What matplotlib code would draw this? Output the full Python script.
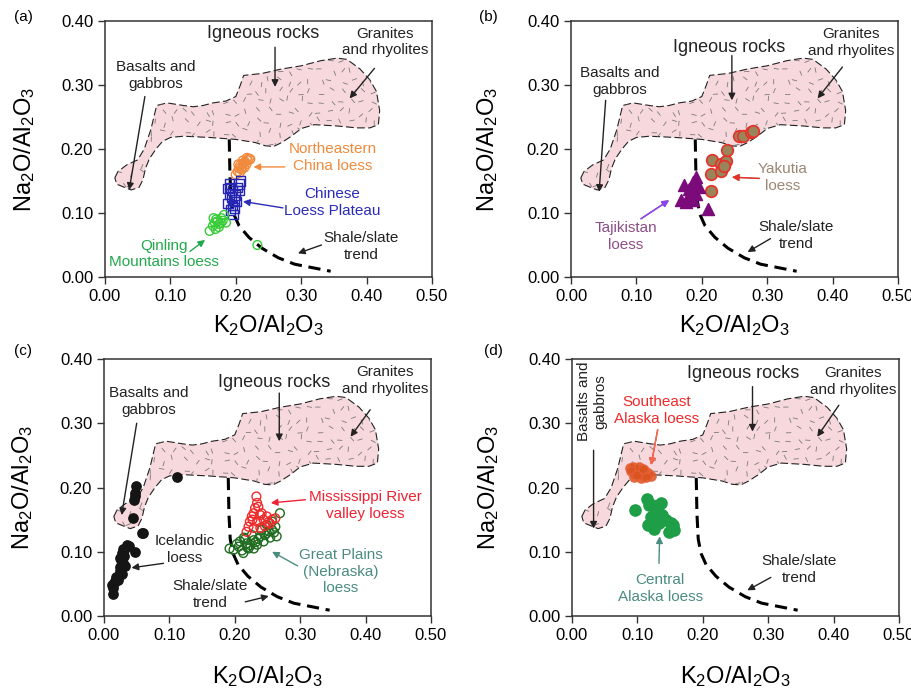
import numpy as np
import matplotlib
matplotlib.use("Agg")
import matplotlib.pyplot as plt
from matplotlib.patches import Polygon
from matplotlib.collections import LineCollection

plt.rcParams['font.family'] = ['Liberation Sans', 'DejaVu Sans']
plt.rcParams['mathtext.default'] = 'regular'

# igneous rocks field outline (K2O/Al2O3, Na2O/Al2O3)
field_x = [0.015, 0.020, 0.033, 0.050, 0.060, 0.070, 0.079, 0.095, 0.120, 0.135, 0.150,
           0.165, 0.185, 0.200, 0.207, 0.212, 0.240, 0.270, 0.300, 0.330, 0.355, 0.370,
           0.390, 0.405, 0.415, 0.420, 0.418, 0.405, 0.385, 0.355, 0.320, 0.300, 0.285,
           0.270, 0.258, 0.245, 0.230, 0.200, 0.160, 0.120, 0.100, 0.088, 0.078, 0.068,
           0.062, 0.058, 0.052, 0.040, 0.030, 0.018]
field_y = [0.155, 0.165, 0.175, 0.183, 0.200, 0.230, 0.268, 0.272, 0.268, 0.266, 0.268,
           0.272, 0.275, 0.282, 0.300, 0.315, 0.318, 0.325, 0.330, 0.338, 0.342, 0.340,
           0.325, 0.308, 0.290, 0.260, 0.238, 0.233, 0.233, 0.236, 0.238, 0.232, 0.220,
           0.210, 0.204, 0.205, 0.210, 0.215, 0.218, 0.220, 0.218, 0.212, 0.200, 0.185,
           0.170, 0.152, 0.140, 0.136, 0.140, 0.145]

# shale/slate trend
trend_x = [0.190, 0.191, 0.193, 0.197, 0.205, 0.220, 0.240, 0.265, 0.290, 0.320, 0.345]
trend_y = [0.215, 0.160, 0.120, 0.098, 0.080, 0.062, 0.045, 0.030, 0.020, 0.014, 0.009]

# (a)
ne_china_x = [0.200, 0.203, 0.205, 0.207, 0.210, 0.212, 0.214, 0.216, 0.218, 0.220, 0.222,
              0.209, 0.204, 0.213, 0.217, 0.206, 0.211]
ne_china_y = [0.160, 0.165, 0.170, 0.175, 0.172, 0.178, 0.180, 0.176, 0.182, 0.185, 0.184,
              0.168, 0.176, 0.171, 0.186, 0.163, 0.182]
clp_x = [0.190, 0.192, 0.195, 0.190, 0.193, 0.197, 0.188, 0.195, 0.198, 0.200, 0.203,
         0.205, 0.207, 0.205, 0.196, 0.192, 0.199, 0.188]
clp_y = [0.145, 0.140, 0.135, 0.130, 0.125, 0.120, 0.115, 0.112, 0.108, 0.118, 0.140,
         0.145, 0.150, 0.135, 0.098, 0.105, 0.128, 0.138]
qinling_x = [0.160, 0.165, 0.168, 0.170, 0.172, 0.175, 0.178, 0.180, 0.182, 0.174, 0.166,
             0.177, 0.169, 0.185, 0.233]
qinling_y = [0.072, 0.080, 0.085, 0.090, 0.087, 0.083, 0.092, 0.088, 0.097, 0.078, 0.092,
             0.085, 0.075, 0.085, 0.050]

# (b)
yakutia_x = [0.214, 0.216, 0.229, 0.230, 0.237, 0.239, 0.214, 0.257, 0.263, 0.275, 0.279, 0.234]
yakutia_y = [0.161, 0.183, 0.176, 0.166, 0.182, 0.198, 0.134, 0.221, 0.220, 0.227, 0.228, 0.173]
tajik_x = [0.173, 0.191, 0.186, 0.181, 0.168, 0.176, 0.186, 0.191, 0.196, 0.209, 0.181, 0.188]
tajik_y = [0.143, 0.156, 0.148, 0.138, 0.120, 0.117, 0.120, 0.130, 0.141, 0.107, 0.128, 0.135]

# (c)
iceland_x = [0.013, 0.012, 0.017, 0.022, 0.027, 0.024, 0.029, 0.024, 0.027, 0.029, 0.035,
             0.048, 0.044, 0.048, 0.049, 0.048, 0.058, 0.060, 0.111, 0.014, 0.031, 0.019,
             0.025, 0.032, 0.021, 0.026, 0.030, 0.038, 0.016, 0.046]
iceland_y = [0.035, 0.048, 0.054, 0.059, 0.066, 0.077, 0.082, 0.090, 0.098, 0.105, 0.111,
             0.099, 0.153, 0.186, 0.202, 0.191, 0.129, 0.129, 0.216, 0.043, 0.102, 0.060,
             0.070, 0.078, 0.056, 0.087, 0.094, 0.109, 0.051, 0.180]
mississippi_x = [0.233, 0.234, 0.236, 0.229, 0.226, 0.239, 0.234, 0.221, 0.229, 0.244, 0.249,
                 0.257, 0.262, 0.254, 0.218, 0.246, 0.231, 0.239, 0.223, 0.227, 0.251, 0.241]
mississippi_y = [0.186, 0.176, 0.170, 0.160, 0.155, 0.157, 0.147, 0.139, 0.137, 0.150, 0.155,
                 0.150, 0.152, 0.144, 0.131, 0.140, 0.168, 0.137, 0.147, 0.150, 0.146, 0.160]
plains_x = [0.198, 0.206, 0.213, 0.218, 0.221, 0.229, 0.234, 0.239, 0.244, 0.249, 0.257,
            0.262, 0.269, 0.264, 0.254, 0.208, 0.226, 0.216, 0.249, 0.229, 0.192, 0.241,
            0.257, 0.203, 0.211, 0.224, 0.236, 0.246, 0.252, 0.219, 0.232, 0.260, 0.214]
plains_y = [0.103, 0.108, 0.098, 0.113, 0.105, 0.118, 0.111, 0.124, 0.116, 0.129, 0.134,
            0.139, 0.160, 0.124, 0.122, 0.116, 0.126, 0.120, 0.142, 0.105, 0.105, 0.134,
            0.147, 0.112, 0.102, 0.110, 0.120, 0.126, 0.132, 0.107, 0.115, 0.130, 0.122]

# (d)
se_alaska_x = [0.088, 0.093, 0.100, 0.105, 0.108, 0.098, 0.116, 0.121, 0.090, 0.103, 0.110,
               0.105, 0.095, 0.113, 0.100, 0.108]
se_alaska_y = [0.230, 0.232, 0.227, 0.225, 0.220, 0.223, 0.222, 0.218, 0.225, 0.232, 0.227,
               0.215, 0.217, 0.217, 0.220, 0.229]
c_alaska_x = [0.096, 0.114, 0.123, 0.128, 0.133, 0.138, 0.143, 0.151, 0.156, 0.148, 0.116,
              0.126, 0.133, 0.121, 0.136, 0.154, 0.118]
c_alaska_y = [0.165, 0.182, 0.173, 0.165, 0.160, 0.157, 0.149, 0.144, 0.134, 0.131, 0.142,
              0.136, 0.144, 0.154, 0.176, 0.142, 0.173]


def frac_hash(k, seed):
    # deterministic scatter of the texture dashes
    v = np.sin(k * 12.9898 + seed * 78.233) * 43758.5453
    return v - np.floor(v)


def base(ax):
    ax.set_xlim(0, 0.5)
    ax.set_ylim(0, 0.4)
    ax.set_xticks(np.arange(0, 0.51, 0.1))
    ax.set_yticks(np.arange(0, 0.41, 0.1))
    ax.xaxis.set_major_formatter(plt.FormatStrFormatter('%.2f'))
    ax.yaxis.set_major_formatter(plt.FormatStrFormatter('%.2f'))
    ax.tick_params(labelsize=12, length=5, width=1, color='#333333', direction='out')
    for s in ax.spines.values():
        s.set_color('#333333')
        s.set_linewidth(1.1)

    field = Polygon(np.column_stack([field_x, field_y]), closed=True, facecolor='#f7d8dc',
                    edgecolor='#222222', lw=0.8, linestyle=(0, (7, 3)), zorder=1)
    ax.add_patch(field)
    segs = []
    L = 0.004
    for i, x in enumerate(np.arange(0.010, 0.43, 0.016)):
        for j, y in enumerate(np.arange(0.130, 0.35, 0.016)):
            k = i * 101 + j * 7 + 1
            ang = frac_hash(k, 1) * np.pi
            cx = x + 0.011 * (frac_hash(k, 2) - 0.5)
            cy = y + 0.011 * (frac_hash(k, 3) - 0.5)
            segs.append([(cx - L * np.cos(ang), cy - L * np.sin(ang)),
                         (cx + L * np.cos(ang), cy + L * np.sin(ang))])
    lc = LineCollection(segs, colors='#7a7a7a', linewidths=0.6, zorder=1.5)
    ax.add_collection(lc)
    lc.set_clip_path(field)

    ax.plot(trend_x, trend_y, color='black', lw=2.2, linestyle=(0, (4, 2.2)), zorder=2)
    ax.set_xlabel(r'K$_2$O/Al$_2$O$_3$', fontsize=17)
    ax.set_ylabel(r'Na$_2$O/Al$_2$O$_3$', fontsize=17)
    ax.xaxis.label.set_va('center')
    ax.yaxis.label.set_va('center')


def label(ax, text, pos, tail, head, color='#222222', size=11, **kw):
    ax.text(pos[0], pos[1], text, color=color, fontsize=size, ha='center', va='center',
            linespacing=1.25, zorder=5, **kw)
    ax.annotate('', xy=head, xytext=tail, zorder=5,
                arrowprops=dict(arrowstyle='-|>', color=color, lw=1, mutation_scale=10,
                                shrinkA=0, shrinkB=0))


fig = plt.figure(figsize=(9.12, 6.94), dpi=100)
W = 327 / 912
axA = fig.add_axes([105 / 912, 1 - 277 / 694, W, 256 / 694])
axB = fig.add_axes([571 / 912, 1 - 277 / 694, W, 256 / 694])
axC = fig.add_axes([104 / 912, 1 - 616 / 694, W, 257 / 694])
axD = fig.add_axes([572 / 912, 1 - 616 / 694, W, 257 / 694])
for ax in (axA, axB, axC, axD):
    base(ax)
axA.xaxis.set_label_coords(0.5, -0.19)
axA.yaxis.set_label_coords(-0.245, 0.5)
axB.xaxis.set_label_coords(0.5, -0.19)
axB.yaxis.set_label_coords(-0.254, 0.5)
axC.xaxis.set_label_coords(0.5, -0.237)
axC.yaxis.set_label_coords(-0.248, 0.5)
axD.xaxis.set_label_coords(0.5, -0.237)
axD.yaxis.set_label_coords(-0.254, 0.5)

fig.text(23 / 912, 1 - 17 / 694, '(a)', fontsize=11, ha='center', va='center')
fig.text(488 / 912, 1 - 17 / 694, '(b)', fontsize=11, ha='center', va='center')
fig.text(23 / 912, 1 - 351 / 694, '(c)', fontsize=11, ha='center', va='center')
fig.text(493 / 912, 1 - 351 / 694, '(d)', fontsize=11, ha='center', va='center')

# (a)
ax = axA
ax.scatter(ne_china_x, ne_china_y, s=42, facecolors='none', edgecolors='#f08a3c', lw=1, zorder=3)
ax.scatter(clp_x, clp_y, s=46, marker='s', facecolors='none', edgecolors='#2626b5', lw=1, zorder=3)
ax.scatter(qinling_x, qinling_y, s=40, facecolors='none', edgecolors='#38cc38', lw=1, zorder=3)
label(ax, 'Igneous rocks', (0.242, 0.380), (0.260, 0.359), (0.260, 0.297), size=13)
label(ax, 'Granites\nand rhyolites', (0.428, 0.367), (0.412, 0.326), (0.374, 0.279))
label(ax, 'Basalts and\ngabbros', (0.078, 0.315), (0.061, 0.282), (0.037, 0.136))
label(ax, 'Shale/slate\ntrend', (0.392, 0.048), (0.331, 0.050), (0.295, 0.037))
label(ax, 'Northeastern\nChina loess', (0.348, 0.187), (0.275, 0.172), (0.227, 0.172), color='#f08a3c')
label(ax, 'Chinese\nLoess Plateau', (0.348, 0.116), (0.272, 0.108), (0.211, 0.118), color='#2b2bb8')
label(ax, 'Qinling\nMountains loess', (0.090, 0.036), (0.130, 0.040), (0.153, 0.058), color='#22a84c')

# (b)
ax = axB
ax.scatter(yakutia_x, yakutia_y, s=70, facecolors='#9a8459', edgecolors='#e8302a', lw=1.2, zorder=3)
ax.scatter(tajik_x, tajik_y, s=75, marker='^', color='#7b0a7b', zorder=3)
label(ax, 'Igneous rocks', (0.242, 0.359), (0.246, 0.346), (0.246, 0.276), size=13)
label(ax, 'Granites\nand rhyolites', (0.428, 0.366), (0.415, 0.328), (0.377, 0.279))
label(ax, 'Basalts and\ngabbros', (0.074, 0.305), (0.053, 0.276), (0.043, 0.133))
label(ax, 'Shale/slate\ntrend', (0.344, 0.065), (0.305, 0.060), (0.270, 0.039))
label(ax, 'Yakutia\nloess', (0.323, 0.156), (0.288, 0.154), (0.246, 0.156), color='#9b8672')
ax.annotate('', xy=(0.246, 0.156), xytext=(0.288, 0.154), zorder=5,
            arrowprops=dict(arrowstyle='-|>', color='#e8302a', lw=1, mutation_scale=10,
                            shrinkA=0, shrinkB=0))
label(ax, 'Tajikistan\nloess', (0.084, 0.063), (0.107, 0.091), (0.150, 0.120), color='#8e4d88')
ax.annotate('', xy=(0.150, 0.120), xytext=(0.107, 0.091), zorder=5,
            arrowprops=dict(arrowstyle='-|>', color='#8a44ee', lw=1, mutation_scale=10,
                            shrinkA=0, shrinkB=0))

# (c)
ax = axC
ax.scatter(iceland_x, iceland_y, s=45, color='#151515', zorder=3)
ax.scatter(plains_x, plains_y, s=40, facecolors='none', edgecolors='#1f6b1f', lw=1, zorder=3)
ax.scatter(mississippi_x, mississippi_y, s=40, facecolors='none', edgecolors='#ee2a2a', lw=1, zorder=3)
label(ax, 'Igneous rocks', (0.260, 0.363), (0.268, 0.347), (0.268, 0.272), size=13)
label(ax, 'Granites\nand rhyolites', (0.430, 0.366), (0.407, 0.321), (0.377, 0.279))
label(ax, 'Basalts and\ngabbros', (0.069, 0.334), (0.050, 0.300), (0.027, 0.157))
label(ax, 'Icelandic\nloess', (0.124, 0.103), (0.091, 0.082), (0.042, 0.075))
label(ax, 'Shale/slate\ntrend', (0.162, 0.033), (0.216, 0.022), (0.252, 0.031))
label(ax, 'Mississippi River\nvalley loess', (0.399, 0.172), (0.308, 0.181), (0.255, 0.176), color='#ee2233')
label(ax, 'Great Plains\n(Nebraska)\nloess', (0.362, 0.069), (0.296, 0.078), (0.257, 0.100), color='#4b8c80')

# (d)
ax = axD
ax.scatter(se_alaska_x, se_alaska_y, s=45, facecolors='#d9541e', edgecolors='#e8603a', lw=1,
           alpha=0.85, zorder=3)
ax.scatter(c_alaska_x, c_alaska_y, s=65, color='#1f9e48', zorder=3)
label(ax, 'Igneous rocks', (0.261, 0.378), (0.276, 0.357), (0.276, 0.287), size=13)
label(ax, 'Granites\nand rhyolites', (0.430, 0.365), (0.408, 0.328), (0.375, 0.279))
label(ax, 'Basalts and\ngabbros', (0.031, 0.334), (0.033, 0.258), (0.033, 0.136), rotation=90)
label(ax, 'Shale/slate\ntrend', (0.347, 0.072), (0.304, 0.060), (0.268, 0.040))
label(ax, 'Southeast\nAlaska loess', (0.129, 0.320), (0.131, 0.290), (0.121, 0.235), color='#ee2a2a')
ax.annotate('', xy=(0.121, 0.235), xytext=(0.131, 0.290), zorder=5,
            arrowprops=dict(arrowstyle='-|>', color='#ee6a50', lw=1, mutation_scale=10,
                            shrinkA=0, shrinkB=0))
label(ax, 'Central\nAlaska loess', (0.135, 0.043), (0.133, 0.082), (0.134, 0.124), color='#4b8c80')

fig.savefig('out.png', dpi=100)
